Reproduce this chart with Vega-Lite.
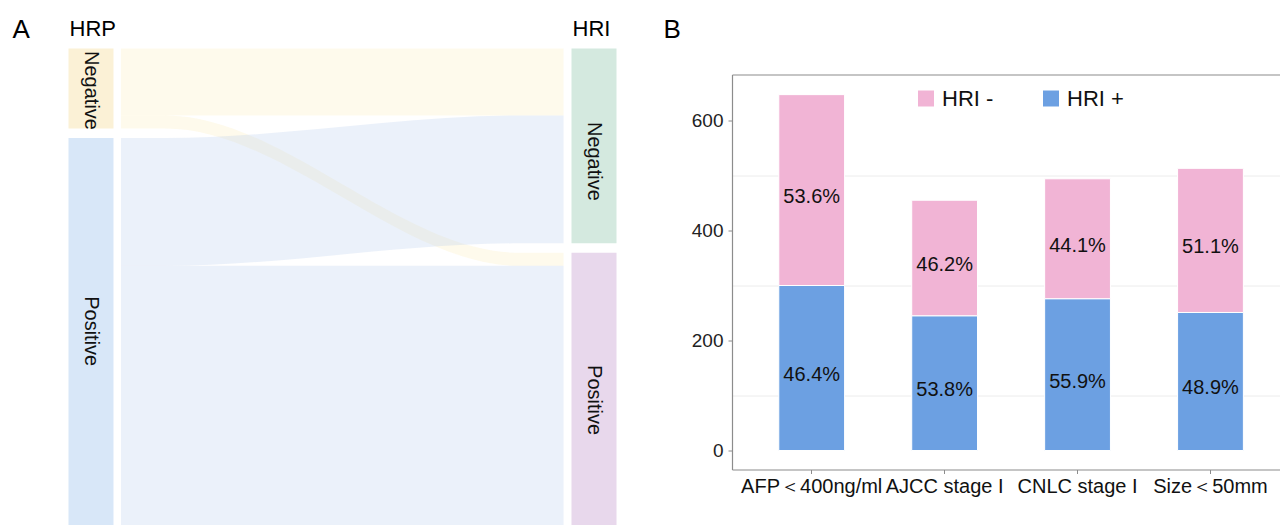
{
  "$schema": "https://vega.github.io/schema/vega-lite/v6.json",
  "background": "#ffffff",
  "padding": {"left": 0, "top": 16.5, "right": 0, "bottom": 0},
  "spacing": 23,
  "resolve": {"scale": {"color": "independent"}, "legend": {"color": "independent"}},
  "config": {
    "view": {"stroke": null},
    "font": "Liberation Sans",
    "axis": {"labelFont": "Liberation Sans", "titleFont": "Liberation Sans"},
    "legend": {"labelFont": "Liberation Sans"},
    "title": {"font": "Liberation Sans"}
  },
  "datasets": {
    "flows": [
      {"flow": "Negative to Negative", "source": "Negative", "x": 1.0596, "top": 0, "bottom": 67},
      {"flow": "Negative to Negative", "source": "Negative", "x": 1.1476, "top": 0, "bottom": 67},
      {"flow": "Negative to Negative", "source": "Negative", "x": 1.8514, "top": 0, "bottom": 67},
      {"flow": "Negative to Negative", "source": "Negative", "x": 1.9394, "top": 0, "bottom": 67},
      {"flow": "Negative to Positive", "source": "Negative", "x": 1.0596, "top": 67, "bottom": 80},
      {"flow": "Negative to Positive", "source": "Negative", "x": 1.1476, "top": 67, "bottom": 80},
      {"flow": "Negative to Positive", "source": "Negative", "x": 1.8514, "top": 204.5, "bottom": 217.5},
      {"flow": "Negative to Positive", "source": "Negative", "x": 1.9394, "top": 204.5, "bottom": 217.5},
      {"flow": "Positive to Negative", "source": "Positive", "x": 1.0596, "top": 89.5, "bottom": 217.5},
      {"flow": "Positive to Negative", "source": "Positive", "x": 1.1476, "top": 89.5, "bottom": 217.5},
      {"flow": "Positive to Negative", "source": "Positive", "x": 1.8514, "top": 67, "bottom": 195},
      {"flow": "Positive to Negative", "source": "Positive", "x": 1.9394, "top": 67, "bottom": 195},
      {"flow": "Positive to Positive", "source": "Positive", "x": 1.0596, "top": 217.5, "bottom": 477.5},
      {"flow": "Positive to Positive", "source": "Positive", "x": 1.1476, "top": 217.5, "bottom": 477.5},
      {"flow": "Positive to Positive", "source": "Positive", "x": 1.8514, "top": 217.5, "bottom": 477.5},
      {"flow": "Positive to Positive", "source": "Positive", "x": 1.9394, "top": 217.5, "bottom": 477.5}
    ],
    "nodes": [
      {"node": "HRP Negative", "stratum": "Negative", "x": 1, "y0": 0, "y1": 80, "label_y": 42},
      {"node": "HRP Positive", "stratum": "Positive", "x": 1, "y0": 89.5, "y1": 477.5, "label_y": 283},
      {"node": "HRI Negative", "stratum": "Negative", "x": 2, "y0": 0, "y1": 195, "label_y": 113},
      {"node": "HRI Positive", "stratum": "Positive", "x": 2, "y0": 204.5, "y1": 477.5, "label_y": 352}
    ],
    "bars": [
      {"group": "AFP＜400ng/ml", "series": "HRI +", "count": 300, "pct": "46.4%"},
      {"group": "AFP＜400ng/ml", "series": "HRI -", "count": 347, "pct": "53.6%"},
      {"group": "AJCC stage I", "series": "HRI +", "count": 245, "pct": "53.8%"},
      {"group": "AJCC stage I", "series": "HRI -", "count": 210, "pct": "46.2%"},
      {"group": "CNLC stage I", "series": "HRI +", "count": 276, "pct": "55.9%"},
      {"group": "CNLC stage I", "series": "HRI -", "count": 218, "pct": "44.1%"},
      {"group": "Size＜50mm", "series": "HRI +", "count": 251, "pct": "48.9%"},
      {"group": "Size＜50mm", "series": "HRI -", "count": 262, "pct": "51.1%"}
    ]
  },
  "hconcat": [
    {
      "width": 640,
      "height": 451,
      "encoding": {
        "x": {
          "field": "x", "type": "quantitative",
          "scale": {"domain": [0.81909, 2.09145], "nice": false, "zero": false, "padding": 0},
          "axis": {"orient": "top", "values": [1, 2], "labelExpr": "datum.value == 1 ? 'HRP' : 'HRI'", "labelAlign": "left", "labelOffset": -22, "labelFontSize": 22, "labelColor": "#000000", "labelBaseline": "alphabetic", "labelPadding": 39, "ticks": false, "tickSize": 0, "domain": false, "grid": false, "labelFlush": false, "labelOverlap": false,
                   "title": "A", "titleX": 12, "titleY": -37, "titleAngle": 0, "titleAlign": "left", "titleBaseline": "alphabetic", "titleFontSize": 26, "titleFontWeight": "normal", "titleColor": "#000000"}
        }
      },
      "layer": [
        {
          "data": {"name": "flows"},
          "transform": [{"filter": "datum.source == 'Negative'"}],
          "mark": {"type": "area", "interpolate": "monotone", "fill": "#F8E08E", "fillOpacity": 0.17},
          "encoding": {
            "y": {"field": "top", "type": "quantitative", "scale": {"domain": [26, 477.5], "reverse": true, "nice": false, "zero": false}, "axis": null},
            "y2": {"field": "bottom"},
            "detail": {"field": "flow"}
          }
        },
        {
          "data": {"name": "flows"},
          "transform": [{"filter": "datum.source == 'Positive'"}],
          "mark": {"type": "area", "interpolate": "monotone", "fill": "#AFC7EB", "fillOpacity": 0.25},
          "encoding": {
            "y": {"field": "top", "type": "quantitative", "scale": {"domain": [26, 477.5], "reverse": true, "nice": false, "zero": false}, "axis": null},
            "y2": {"field": "bottom"},
            "detail": {"field": "flow"}
          }
        },
        {
          "data": {"name": "nodes"},
          "mark": {"type": "bar", "size": 45},
          "encoding": {
            "y": {"field": "y0", "type": "quantitative", "scale": {"domain": [26, 477.5], "reverse": true, "nice": false, "zero": false}, "axis": null},
            "y2": {"field": "y1"},
            "color": {"field": "node", "type": "nominal", "scale": {"domain": ["HRP Negative", "HRP Positive", "HRI Negative", "HRI Positive"], "range": ["#FBF1D6", "#D8E7F8", "#D4E9DF", "#E8D8EC"]}, "legend": null}
          }
        },
        {
          "data": {"name": "nodes"},
          "mark": {"type": "text", "angle": 90, "fontSize": 20, "align": "center", "baseline": "middle", "color": "#111111"},
          "encoding": {
            "y": {"field": "label_y", "type": "quantitative", "scale": {"domain": [26, 477.5], "reverse": true, "nice": false, "zero": false}, "axis": null},
            "text": {"field": "stratum"}
          }
        }
      ]
    },
    {
      "width": 548,
      "height": 395,
      "data": {"name": "bars"},
      "transform": [{"stack": "count", "groupby": ["group"], "sort": [{"field": "series", "order": "ascending"}], "as": ["y0", "y1"]}],
      "layer": [
        {
          "mark": {"type": "bar", "stroke": "#ffffff", "strokeWidth": 1},
          "encoding": {
            "x": {
              "field": "group", "type": "nominal",
              "sort": ["AFP＜400ng/ml", "AJCC stage I", "CNLC stage I", "Size＜50mm"],
              "scale": {"paddingInner": 0.505, "paddingOuter": 0.31375, "align": 0.561},
              "axis": {"orient": "bottom", "title": null, "labelAngle": 0, "labelFontSize": 20, "labelColor": "#111111", "labelPadding": 3, "tickSize": 4, "tickColor": "#8c8c8c", "domainColor": "#8c8c8c", "domainWidth": 1.2, "grid": false}
            },
            "y": {
              "field": "y0", "type": "quantitative",
              "scale": {"domain": [-34.5, 683.6], "nice": false, "zero": false},
              "axis": {"orient": "left", "values": [0, 200, 400, 600], "title": "B", "titleX": -69, "titleY": -37, "titleAngle": 0, "titleAlign": "left", "titleBaseline": "alphabetic", "titleFontSize": 26, "titleFontWeight": "normal", "titleColor": "#000000", "labelFontSize": 19, "labelColor": "#222222", "labelPadding": 5, "tickSize": 4, "tickColor": "#8c8c8c", "domainColor": "#8c8c8c", "domainWidth": 1.2, "grid": false}
            },
            "y2": {"field": "y1"},
            "color": {
              "field": "series", "type": "nominal",
              "scale": {"domain": ["HRI -", "HRI +"], "range": ["#F1B4D5", "#6CA0E2"]},
              "legend": {"orient": "none", "legendX": 183, "legendY": 13, "direction": "horizontal", "title": null, "symbolType": "square", "symbolSize": 256, "symbolStrokeWidth": 0, "symbolOpacity": 1, "labelFontSize": 22, "labelOffset": 5, "labelColor": "#111111", "columnPadding": 46, "padding": 0}
            }
          }
        },
        {
          "transform": [{"fold": ["y0", "y1"], "as": ["end", "value"]}],
          "mark": {"type": "text", "fontSize": 20, "color": "#111111", "baseline": "middle", "dy": 7},
          "encoding": {
            "x": {
              "field": "group", "type": "nominal",
              "sort": ["AFP＜400ng/ml", "AJCC stage I", "CNLC stage I", "Size＜50mm"],
              "axis": {"orient": "top", "title": null, "labels": false, "ticks": false, "domainColor": "#8c8c8c", "domainWidth": 1.2, "grid": false}
            },
            "y": {
              "aggregate": "mean", "field": "value", "type": "quantitative",
              "axis": {"orient": "right", "values": [100, 300, 500], "grid": true, "gridColor": "#ececec", "labels": false, "ticks": false, "domain": false, "title": null}
            },
            "text": {"field": "pct"},
            "detail": {"field": "series"}
          }
        }
      ],
      "resolve": {"axis": {"x": "independent", "y": "independent"}}
    }
  ]
}
